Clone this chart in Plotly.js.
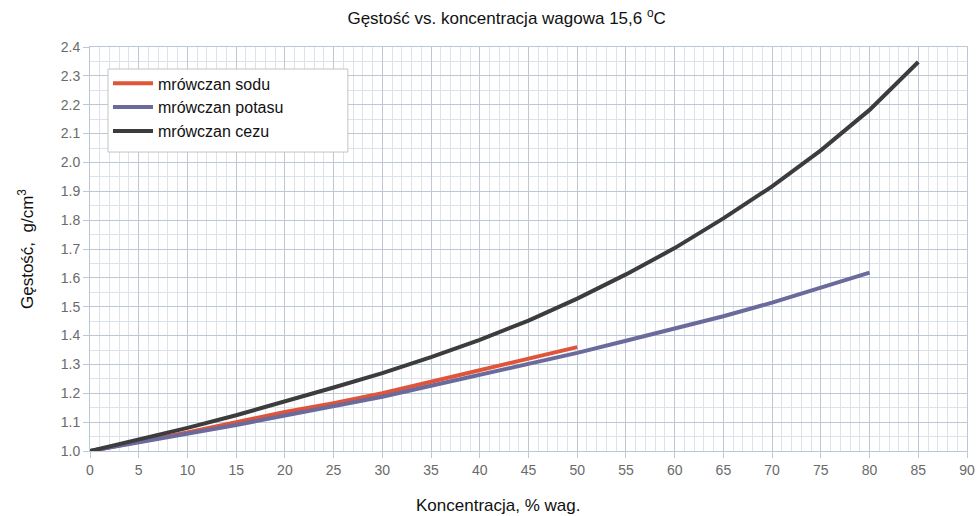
<!DOCTYPE html>
<html>
<head>
<meta charset="utf-8">
<script src="https://cdn.plot.ly/plotly-3.0.1.min.js"></script>
<style>html,body{margin:0;padding:0;background:#fff;}#chart{width:980px;height:516px;}</style>
</head>
<body>
<div id="chart"></div>
<script>
// Concentration, % wt.
const xSodu = [0, 5, 10, 15, 20, 25, 30, 35, 40, 45, 50];
const ySodu = [1.0, 1.032, 1.064, 1.100, 1.135, 1.166, 1.200, 1.240, 1.280, 1.318, 1.360];

const xPotasu = [0, 5, 10, 15, 20, 25, 30, 35, 40, 45, 50, 55, 60, 65, 70, 75, 80];
const yPotasu = [1.0, 1.030, 1.059, 1.090, 1.123, 1.155, 1.188, 1.226, 1.264, 1.302, 1.340, 1.382, 1.424, 1.467, 1.514, 1.565, 1.618];

const xCezu = [0, 5, 10, 15, 20, 25, 30, 35, 40, 45, 50, 55, 60, 65, 70, 75, 80, 85];
const yCezu = [1.0, 1.040, 1.080, 1.124, 1.171, 1.220, 1.270, 1.325, 1.385, 1.452, 1.528, 1.612, 1.703, 1.806, 1.917, 2.042, 2.182, 2.348];

const names = ['mrówczan sodu', 'mrówczan potasu', 'mrówczan cezu'];
const colors = ['#e0553a', '#6a6a9c', '#3c3c3c'];

const traces = [
  {x: xSodu, y: ySodu, name: names[0], mode: 'lines', line: {color: colors[0], width: 4}},
  {x: xPotasu, y: yPotasu, name: names[1], mode: 'lines', line: {color: colors[1], width: 4}},
  {x: xCezu, y: yCezu, name: names[2], mode: 'lines', line: {color: colors[2], width: 4}}
];

const FONT = 'Liberation Sans, Arial, sans-serif';
const tickFont = {family: FONT, size: 14, color: '#6a6a6a'};

const layout = {
  width: 980, height: 516,
  margin: {l: 90, r: 13, t: 47, b: 65},
  paper_bgcolor: '#fff', plot_bgcolor: '#fff',
  font: {family: FONT, color: '#111'},
  title: {text: 'Gęstość vs. koncentracja wagowa 15,6 <sup>o</sup>C', x: 0.517, xanchor: 'center', y: 0.965, yanchor: 'middle', font: {size: 17, color: '#111'}},
  xaxis: {
    range: [0, 90], dtick: 5, tick0: 0,
    showgrid: true, gridcolor: '#bcc8d6', gridwidth: 1,
    minor: {dtick: 1, showgrid: true, gridcolor: '#dce3ec', gridwidth: 1},
    zeroline: false, showline: true, linecolor: '#bcc8d6', mirror: true,
    ticks: 'outside', ticklen: 6, tickcolor: '#bcc8d6',
    tickfont: tickFont
  },
  yaxis: {
    range: [1.0, 2.4], dtick: 0.1, tick0: 1.0, tickformat: '.1f',
    showgrid: true, gridcolor: '#bcc8d6', gridwidth: 1,
    minor: {dtick: 0.05, showgrid: true, gridcolor: '#dce3ec', gridwidth: 1},
    zeroline: false, showline: true, linecolor: '#bcc8d6', mirror: true,
    ticks: 'outside', ticklen: 6, tickcolor: '#bcc8d6',
    tickfont: tickFont,
    title: {text: 'Gęstość,&nbsp;&nbsp;g/cm<sup>3</sup>', font: {size: 17, color: '#111'}, standoff: 22}
  },
  annotations: [
    {text: 'Koncentracja, % wag.', xref: 'paper', yref: 'paper', x: 0.465, y: -0.134,
     xanchor: 'center', yanchor: 'middle', showarrow: false, font: {size: 17, color: '#111'}}
  ],
  shapes: [
    {type: 'rect', xref: 'paper', yref: 'paper', x0: 0.0205, x1: 0.294, y0: 0.740, y1: 0.9455,
     line: {color: '#c4c4c4', width: 1}, fillcolor: '#ffffff', layer: 'above'}
  ],
  showlegend: true,
  legend: {
    x: 0.0205, y: 0.952, xanchor: 'left', yanchor: 'top',
    bgcolor: 'rgba(0,0,0,0)', borderwidth: 0,
    font: {size: 16, color: '#111'},
    itemwidth: 40, tracegroupgap: 0
  }
};

Plotly.newPlot('chart', traces, layout, {displayModeBar: false, staticPlot: true});
</script>
</body>
</html>
